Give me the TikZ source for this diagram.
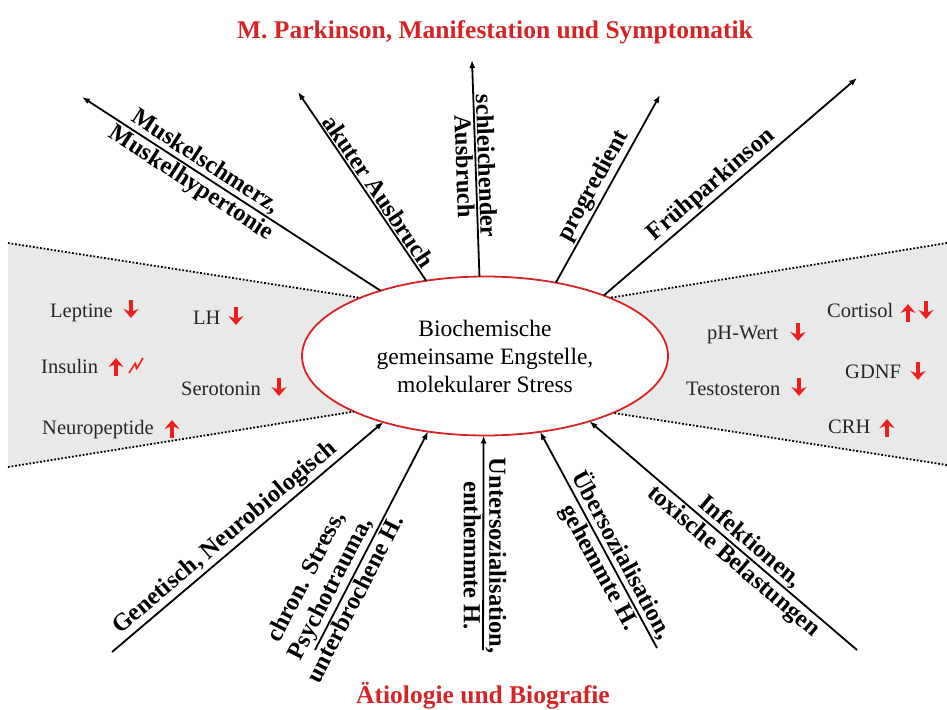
\documentclass[tikz,border=0pt]{standalone}
\usepackage{fontspec}
\setmainfont{Liberation Serif}
\usetikzlibrary{shapes.geometric, arrows.meta, positioning}
\definecolor{titlered}{RGB}{212,36,38}
\definecolor{markred}{RGB}{238,30,30}
\definecolor{panelgray}{RGB}{233,233,233}
\tikzset{
    base/.style={align=center, inner sep=1.5pt},
    heading/.style={base, anchor=base, font=\bfseries\fontsize{25.5}{28}\selectfont, text=titlered},
    hub/.style={ellipse, draw=titlered, line width=1.8pt, fill=white, minimum width=366pt, minimum height=159pt, outer sep=0pt, align=center, font=\fontsize{23.5}{28}\selectfont},
    factor/.style={base, font=\bfseries\fontsize{24.5}{27}\selectfont},
    marker/.style={anchor=base west, inner sep=0pt, font=\fontsize{20.5}{22}\selectfont, text=black!85},
    arrow/.style={-{Latex[length=8pt,width=6pt]}, line width=1.8pt},
    fence/.style={line width=1.8pt, dash pattern=on 1.8pt off 1.8pt},
    rise/.style={-{Stealth[length=9pt,width=15pt,inset=3pt]}, line width=3.6pt, draw=markred},
    fall/.style={rise},
    spark/.style={draw=markred, line width=1.6pt, line join=round}
}

\begin{document}
\begin{tikzpicture}[x=1pt, y=-1pt]
    \useasboundingbox (0,0) rectangle (947,709);

    % grey panels behind the centre
    \fill [panelgray] (8,243) -- (360,298) -- (400,300) -- (400,410) -- (355,412) -- (8,467) -- cycle;
    \fill [panelgray] (947,243) -- (610,298) -- (570,300) -- (570,410) -- (615,413) -- (947,465) -- cycle;

    \node (core) [hub] at (485,356) {Biochemische\\gemeinsame Engstelle,\\molekularer Stress};

    \draw [fence] (8,243) -- (core.155);
    \draw [fence] (8,467) -- (core.203);
    \draw [fence] (947,243) -- (core.25);
    \draw [fence] (947,465) -- (core.336);

    \node (symptoms) [heading] at (495,38) {M. Parkinson, Manifestation und Symptomatik};
    \node (causes) [heading] at (483,703) {Ätiologie und Biografie};

    % outer ends
    \coordinate (m1) at (82,97);
    \coordinate (m2) at (298,92);
    \coordinate (m3) at (472,60);
    \coordinate (m4) at (660,95);
    \coordinate (m5) at (857,78);
    \coordinate (a1) at (112,652);
    \coordinate (a2) at (315,650);
    \coordinate (a3) at (483,650);
    \coordinate (a4) at (657,648);
    \coordinate (a5) at (857,650);

    % manifestation
    \draw [arrow] (core.148) -- node [factor, sloped, above, pos=.61] {Muskelschmerz,} node [factor, sloped, below, pos=.61] {Muskelhypertonie} (m1);
    \draw [arrow] (core.128) -- node [factor, sloped, above, pos=.44] {akuter Ausbruch} (m2);
    \draw [arrow] (core.94) -- node [factor, sloped, above, pos=.51] {schleichender} node [factor, sloped, below, pos=.51] {Ausbruch} (m3);
    \draw [arrow] (core.46) -- node [factor, sloped, above, pos=.48] {progredient} (m4);
    \draw [arrow] (core.27) -- node [factor, sloped, above, pos=.46] {Frühparkinson} (m5);

    % aetiology
    \draw [arrow] (a1) -- node [factor, sloped, above, pos=.45] {Genetisch, Neurobiologisch} (core.213);
    \draw [arrow] (a2) -- node [factor, sloped, above, pos=.25] {chron. Stress,\\Psychotrauma,} node [factor, sloped, below, pos=.26] {unterbrochene H.} (core.233);
    \draw [arrow] (a3) -- node [factor, rotate=-90, above, pos=.44] {Untersozialisation,} node [factor, rotate=-90, below, pos=.44] {enthemmte H.} (core.269);
    \draw [arrow] (a4) -- node [factor, sloped, above, pos=.40] {Übersozialisation,} node [factor, sloped, below, pos=.40] {gehemmte H.} (core.306);
    \draw [arrow] (a5) -- node [factor, sloped, above, pos=.43] {Infektionen,} node [factor, sloped, below, pos=.43] {toxische Belastungen} (core.328);

    % messengers, left
    \node (leptine) [marker] at (50,317) {Leptine};
    \node (lh) [marker] at (193,324) {LH};
    \node (insulin) [marker] at (41,373) {Insulin};
    \node (serotonin) [marker] at (181,395) {Serotonin};
    \node (neuropeptide) [marker] at (42,434) {Neuropeptide};
    \draw [fall] (131,300) -- (131,318);
    \draw [fall] (236,307) -- (236,325);
    \draw [rise] (116,376) -- (116,358);
    \draw [spark] (129,373) -- (135.5,363) -- (136.5,369) -- (143,358);
    \draw [fall] (279,378) -- (279,396);
    \draw [rise] (172,438) -- (172,420);

    % messengers, right
    \node (cortisol) [marker] at (827,317) {Cortisol};
    \node (phwert) [marker] at (707,339) {pH-Wert};
    \node (gdnf) [marker] at (845,378) {GDNF};
    \node (testosteron) [marker] at (686,395) {Testosteron};
    \node (crh) [marker] at (828,433) {CRH};
    \draw [rise] (908,322) -- (908,304);
    \draw [fall] (926,301) -- (926,319);
    \draw [fall] (798,323) -- (798,341);
    \draw [fall] (918,362) -- (918,380);
    \draw [fall] (799,378) -- (799,396);
    \draw [rise] (887,437) -- (887,419);
\end{tikzpicture}
\end{document}
